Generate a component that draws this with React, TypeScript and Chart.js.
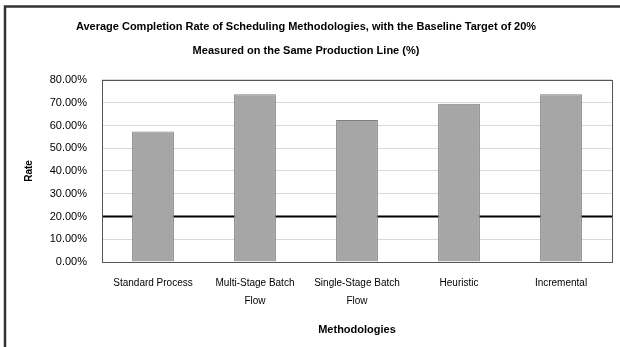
import React, { useEffect, useRef } from "react";
import { Chart, registerables } from "chart.js";

Chart.register(...registerables);

const titleLines = [
  "Average Completion Rate of Scheduling Methodologies, with the Baseline Target of 20%",
  "Measured on the Same Production Line (%)",
];
const categories: (string | string[])[] = [
  "Standard Process",
  ["Multi-Stage Batch", "Flow"],
  ["Single-Stage Batch", "Flow"],
  "Heuristic",
  "Incremental",
];
const values = [57.3, 73.7, 62.4, 69.5, 73.7];
const thresholdValue = 20;
const yMin = 0;
const yMax = 80;
const yStep = 10;
const xTitle = "Methodologies";
const yTitle = "Rate";

const FONT = "'Liberation Sans', Arial, sans-serif";

const framePlugin = {
  id: "framePlugin",
  beforeDatasetsDraw(chart: any) {
    const { ctx, chartArea, scales } = chart;
    const y = scales.y.getPixelForValue(thresholdValue);
    ctx.save();
    ctx.strokeStyle = "#000";
    ctx.lineWidth = 2;
    ctx.beginPath();
    ctx.moveTo(chartArea.left, y);
    ctx.lineTo(chartArea.right, y);
    ctx.stroke();
    ctx.restore();
  },
  afterDraw(chart: any) {
    const { ctx, chartArea } = chart;
    ctx.save();
    ctx.strokeStyle = "#555";
    ctx.lineWidth = 1;
    ctx.strokeRect(
      Math.round(chartArea.left) + 0.5,
      Math.round(chartArea.top) + 0.5,
      Math.round(chartArea.right - chartArea.left),
      Math.round(chartArea.bottom - chartArea.top)
    );
    ctx.strokeStyle = "#333";
    ctx.lineWidth = 2.5;
    ctx.strokeRect(5, 6.5, 800, 600);
    ctx.restore();
  },
};

export default function App() {
  const ref = useRef<HTMLCanvasElement | null>(null);
  useEffect(() => {
    if (!ref.current) return;
    const chart = new Chart(ref.current, {
      type: "bar",
      data: {
        labels: categories,
        datasets: [
          {
            data: values,
            backgroundColor: "#a6a6a6",
            borderColor: "#7f7f7f",
            borderWidth: 1,
            categoryPercentage: 1,
            barPercentage: 0.41,
          },
        ],
      },
      options: {
        animation: false,
        responsive: false,
        maintainAspectRatio: false,
        layout: { padding: { left: 0, right: 8, top: 0, bottom: 0 } },
        plugins: {
          legend: { display: false },
          tooltip: { enabled: false },
          title: {
            display: true,
            text: titleLines,
            color: "#000",
            font: { family: FONT, size: 11, weight: "bold", lineHeight: 2.18 },
            padding: { top: 15, bottom: 17 },
          },
        },
        scales: {
          x: {
            grid: { display: false, drawTicks: false },
            border: { display: false },
            ticks: {
              color: "#000",
              font: { family: FONT, size: 10, lineHeight: 1.8 },
              padding: 12,
              maxRotation: 0,
              autoSkip: false,
            },
            title: {
              display: true,
              text: xTitle,
              color: "#000",
              font: { family: FONT, size: 11, weight: "bold" },
              padding: { top: 0, bottom: 10 },
            },
            afterFit(scale: any) {
              scale.height = 85;
            },
          },
          y: {
            min: yMin,
            max: yMax,
            grid: { color: "#d9d9d9", drawTicks: false },
            border: { display: false },
            ticks: {
              stepSize: yStep,
              color: "#000",
              font: { family: FONT, size: 11 },
              padding: 15,
              callback: (v: any) => Number(v).toFixed(2) + "%",
            },
            title: {
              display: true,
              text: yTitle,
              color: "#000",
              font: { family: FONT, size: 10, weight: "bold" },
              padding: { top: 23, bottom: 0 },
            },
            afterFit(scale: any) {
              scale.width = 102;
            },
          },
        },
      },
      plugins: [framePlugin],
    });
    return () => chart.destroy();
  }, []);
  return (
    <div style={{ position: "fixed", left: 0, top: 0, width: 620, height: 347, background: "#fff" }}>
      <canvas ref={ref} width={620} height={347} style={{ width: 620, height: 347, display: "block" }} />
    </div>
  );
}
